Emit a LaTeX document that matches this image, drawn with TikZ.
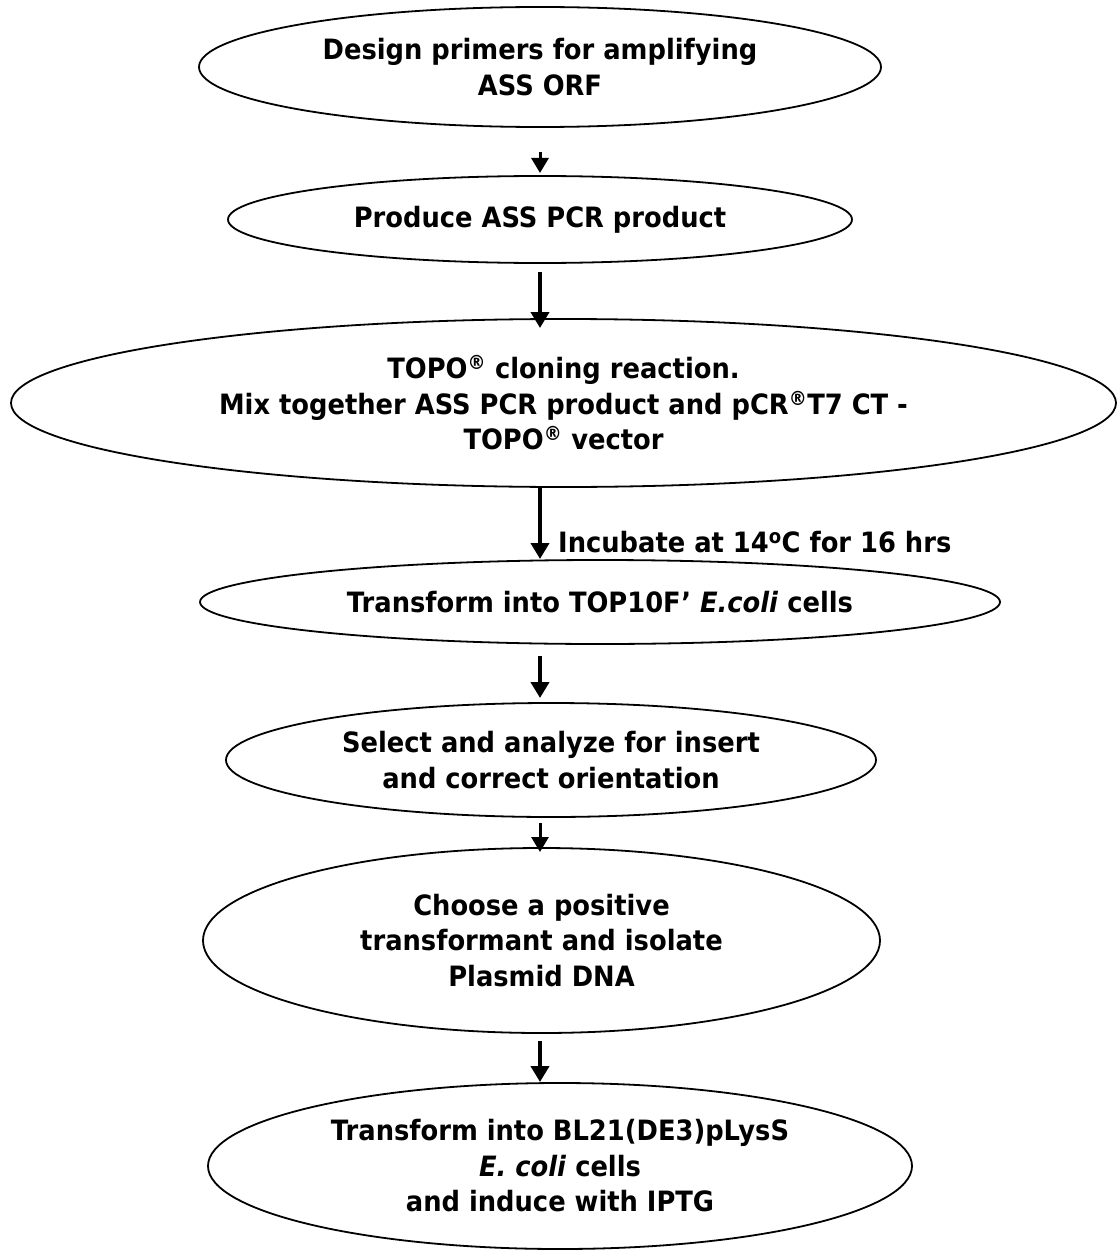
\documentclass[tikz,border=0pt]{standalone}
\usepackage{fontspec}
\setmainfont{DejaVu Sans}[FakeStretch=0.92]
\usetikzlibrary{shapes.geometric,arrows.meta}
\tikzset{
  stepell/.style={ellipse, draw, line width=1.8pt, inner sep=0pt, outer sep=0pt,
    align=center, font=\bfseries\fontsize{28}{35.5}\selectfont},
  flowarrow/.style={line width=4.5pt, -{Triangle[width=18pt,length=16pt]}},
  thinarrow/.style={line width=3pt, -{Triangle[width=17pt,length=15pt]}},
  lbl/.style={inner sep=0pt, anchor=west, font=\bfseries\fontsize{28}{35.5}\selectfont}
}
\newcommand{\regsup}{\textsuperscript{®}}
\begin{document}
\begin{tikzpicture}[x=1pt,y=-1pt]
\useasboundingbox (0,0) rectangle (1118,1252);
\coordinate (ax) at (540,0);
\node[stepell, minimum width=682pt, minimum height=120pt] (e1) at (540,67)
  {Design primers for amplifying\\ASS ORF};
\node[stepell, minimum width=624pt, minimum height=87pt] (e2) at (540,219.5)
  {Produce ASS PCR product};
\node[stepell, minimum width=1105pt, minimum height=168pt] (e3) at (563.5,403)
  {TOPO\regsup{} cloning reaction.\\Mix together ASS PCR product and pCR\regsup{}T7 CT -\\TOPO\regsup{} vector};
\node[stepell, minimum width=800pt, minimum height=84pt] (e4) at (600,602)
  {Transform into TOP10F’ \textit{E.coli} cells};
\node[stepell, minimum width=650pt, minimum height=114pt] (e5) at (551,760)
  {Select and analyze for insert\\and correct orientation};
\node[stepell, minimum width=677pt, minimum height=185pt] (e6) at (541.5,940.5)
  {Choose a positive\\transformant and isolate\\Plasmid DNA};
\node[stepell, minimum width=704pt, minimum height=166pt] (e7) at (560,1166)
  {Transform into BL21(DE3)pLysS\\\textit{E. coli} cells\\and induce with IPTG};
\node[lbl] (inc) at (558,542) {Incubate at 14\textsuperscript{o}C for 16 hrs};
\draw[thinarrow, shorten <=25pt, shorten >=3pt] (ax |- e1.south) -- (ax |- e2.north);
\draw[flowarrow, shorten <=9pt, shorten >=-9pt] (ax |- e2.south) -- (ax |- e3.north);
\draw[flowarrow, shorten >=1pt] (ax |- e3.south) -- (ax |- e4.north);
\draw[flowarrow, shorten <=12pt, shorten >=5pt] (ax |- e4.south) -- (ax |- e5.north);
\draw[thinarrow, shorten <=6pt, shorten >=-4pt] (ax |- e5.south) -- (ax |- e6.north);
\draw[flowarrow, shorten <=8pt, shorten >=1pt] (ax |- e6.south) -- (ax |- e7.north);
\end{tikzpicture}
\end{document}
